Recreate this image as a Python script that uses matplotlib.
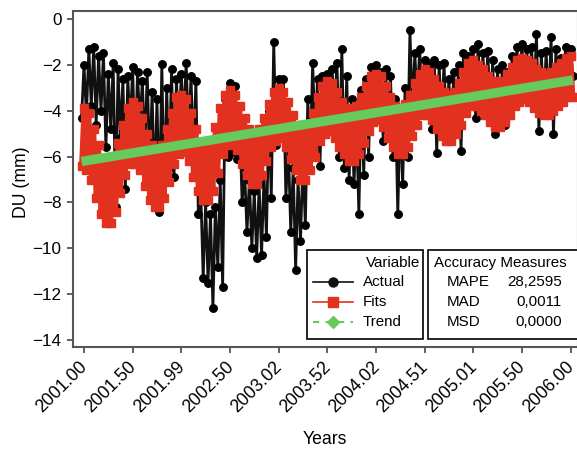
import numpy as np
import matplotlib
matplotlib.use("Agg")
import matplotlib.pyplot as plt
import matplotlib.transforms as mtransforms
from matplotlib.lines import Line2D
from matplotlib.patches import Rectangle

plt.rcParams['font.family'] = ['Liberation Sans', 'DejaVu Sans']

# time grid of the series (decimal years)
t_start = 2000.975
t_step = 0.025

actual = [
    -4.3,
    -2.0, -4.2, -1.3, -3.8, -1.2, -4.6, -1.6, -4.0, -1.5, -5.6, -2.4, -4.8, -1.9, -8.2, -2.2, -5.2, -2.6, -7.4, -2.5, -4.8,
    -2.1, -6.2, -2.3, -4.6, -2.7, -5.8, -2.3, -6.5, -3.2, -7.6, -3.5, -8.4, -1.95, -7.8, -3.0, -6.5, -2.2, -6.9, -2.6, -5.0,
    -2.4, -4.5, -1.9, -5.0, -2.5, -6.0, -2.7, -8.5, -7.5, -11.3, -8.0, -11.5, -8.5, -12.6, -8.2, -10.8, -7.0, -11.7, -3.5, -6.0,
    -2.8, -5.8, -2.9, -6.1, -4.5, -8.0, -6.5, -9.3, -7.0, -10.0, -7.5, -10.4, -7.2, -10.3, -6.8, -9.5, -4.0, -7.8, -1.0, -5.5,
    -2.6, -4.5, -2.6, -7.8, -5.5, -9.3, -6.5, -10.95, -7.0, -9.7, -6.2, -9.0, -3.5, -6.0, -1.9, -5.0, -2.6, -6.4, -2.5, -4.5,
    -2.4, -4.5, -2.2, -4.0, -1.9, -6.0, -1.3, -6.5, -2.5, -7.0, -3.5, -7.2, -4.5, -8.5, -3.1, -6.8, -2.6, -6.0, -2.1, -4.5,
    -2.0, -4.0, -2.3, -5.3, -2.2, -4.5, -2.5, -6.0, -3.5, -8.5, -4.0, -7.2, -3.0, -6.0, -0.5, -4.0, -1.5, -3.5, -1.3, -3.5,
    -1.8, -4.0, -2.0, -4.8, -1.8, -5.85, -2.0, -4.5, -1.9, -5.0, -2.6, -5.2, -2.3, -4.8, -2.0, -5.75, -1.5, -4.0, -1.6, -3.8,
    -1.3, -4.3, -1.1, -3.5, -1.5, -3.8, -1.4, -4.2, -1.8, -5.0, -2.2, -4.5, -2.0, -4.6, -2.3, -4.2, -1.6, -3.5, -1.2, -3.2,
    -1.1, -3.0, -1.3, -3.2, -1.2, -3.5, -0.65, -4.9, -1.5, -3.8, -1.4, -4.0, -0.8, -5.0, -1.3, -3.5, -1.7, -3.0, -1.2, -2.8,
    -1.3, -2.5,
]

fits = [
    -6.4,
    -3.9, -6.6, -4.1, -7.0, -4.8, -7.8, -5.5, -8.5, -6.2, -8.9, -6.4, -8.9, -6.1, -8.4, -5.4, -7.6, -4.6, -6.8, -3.9, -6.3,
    -3.6, -6.3, -3.8, -6.6, -4.3, -7.3, -5.0, -7.9, -5.5, -8.2, -5.7, -8.2, -5.5, -7.8, -4.8, -7.1, -4.1, -6.3, -3.4, -5.9,
    -3.3, -5.8, -3.5, -6.2, -4.1, -6.9, -4.8, -7.5, -5.4, -7.9, -5.6, -7.9, -5.4, -7.5, -4.7, -6.7, -3.9, -5.9, -3.3, -5.5,
    -3.1, -5.4, -3.3, -5.7, -3.8, -6.3, -4.3, -6.8, -4.8, -7.2, -5.0, -7.2, -4.8, -6.8, -4.3, -6.2, -3.7, -5.6, -3.2, -5.3,
    -3.0, -5.2, -3.2, -5.6, -3.6, -6.1, -4.2, -6.6, -4.6, -7.0, -4.8, -7.0, -4.6, -6.6, -4.1, -6.0, -3.4, -5.3, -2.9, -5.0,
    -2.7, -4.9, -2.8, -5.2, -3.2, -5.6, -3.6, -5.9, -3.9, -6.2, -4.0, -6.2, -3.8, -5.9, -3.4, -5.4, -2.9, -4.9, -2.5, -4.5,
    -2.4, -4.4, -2.5, -4.7, -2.9, -5.2, -3.4, -5.6, -3.8, -5.9, -3.9, -5.9, -3.7, -5.6, -3.3, -5.1, -2.8, -4.6, -2.4, -4.2,
    -2.2, -4.2, -2.3, -4.4, -2.6, -4.8, -2.9, -5.1, -3.2, -5.3, -3.3, -5.3, -3.2, -5.0, -2.8, -4.6, -2.3, -4.1, -1.9, -3.8,
    -1.8, -3.8, -2.0, -4.0, -2.2, -4.2, -2.5, -4.5, -2.7, -4.7, -2.8, -4.7, -2.7, -4.5, -2.4, -4.2, -2.1, -3.8, -1.8, -3.6,
    -1.7, -3.5, -1.8, -3.6, -1.9, -3.9, -2.2, -4.1, -2.3, -4.2, -2.4, -4.2, -2.3, -4.0, -2.1, -3.8, -1.9, -3.6, -1.7, -3.4,
    -1.6, -3.4,
]

trend_years = [2000.975, 2006.025]
trend_values = [-6.21, -2.66]

tick_pos = [2001.0, 2001.5, 2002.0, 2002.5, 2003.0, 2003.5, 2004.0, 2004.5, 2005.0, 2005.5, 2006.0]
tick_labels = ['2001.00', '2001.50', '2001.99', '2002.50', '2003.02', '2003.52',
               '2004.02', '2004.51', '2005.01', '2005.50', '2006.00']
y_ticks = [0, -2, -4, -6, -8, -10, -12, -14]

series_names = ['Actual', 'Fits', 'Trend']
measure_names = ['MAPE', 'MAD', 'MSD']
measure_values = ['28,2595', '0,0011', '0,0000']

c_actual = '#111111'
c_fits = '#e2321f'
c_trend = '#66ca5c'

years_a = t_start + t_step * np.arange(len(actual))
years_f = t_start + t_step * np.arange(len(fits))

fig = plt.figure(figsize=(5.77, 4.53), dpi=100)
ax = fig.add_axes([72.7 / 577, 1 - 346.5 / 453, (578 - 72.7) / 577, (346.5 - 11) / 453])

ax.plot(years_a, actual, color=c_actual, lw=2.0, marker='o', ms=5.4,
        mfc='black', mec='black', zorder=2)
ax.plot(years_f, fits, color=c_fits, lw=3.6, marker='s', ms=5.2,
        mfc=c_fits, mec=c_fits, zorder=3)
ax.plot(trend_years, trend_values, color=c_trend, lw=6.8, solid_capstyle='butt', zorder=4)

ax.set_xlim(2000.884, 2006.077)
ax.set_ylim(-14.28, 0.35)
ax.set_xticks(tick_pos)
ax.set_xticklabels(tick_labels)
ax.set_yticks(y_ticks)

for s in ax.spines.values():
    s.set_color('#555555')
    s.set_linewidth(1.5)
ax.tick_params(axis='both', color='#555555', width=1.3, length=4.5, labelsize=12.3,
               labelcolor='black')
ax.tick_params(axis='x', labelsize=12.7, pad=2)
offset = mtransforms.ScaledTranslation(-5 / 100, -3 / 100, fig.dpi_scale_trans)
for lab in ax.get_xticklabels():
    lab.set_rotation(45)
    lab.set_ha('right')
    lab.set_va('top')
    lab.set_rotation_mode('anchor')
    lab.set_transform(lab.get_transform() + offset)

fig.text(22 / 577, 1 - 182 / 453, 'DU (mm)', rotation=90, ha='center', va='center',
         fontsize=12.7)
fig.text(325 / 577, 1 - 440 / 453, 'Years', ha='center', va='center', fontsize=12.7)

# legend boxes
tr = ax.transAxes
def axx(px):
    return (px - 72.7) / 505.3
def axy(py):
    return 1 - (py - 11) / 335.5

ax.add_patch(Rectangle((axx(307), axy(339)), axx(423) - axx(307), axy(250) - axy(339),
                       transform=tr, facecolor='white', edgecolor='black', lw=1.2, zorder=6))
ax.add_patch(Rectangle((axx(428), axy(339)), axx(590) - axx(428), axy(250) - axy(339),
                       transform=tr, facecolor='white', edgecolor='black', lw=1.2, zorder=6,
                       clip_on=False))

fs = 10.9
ax.text(axx(420), axy(263), 'Variable', transform=tr, ha='right', va='center', fontsize=fs, zorder=7)
rows_y = [281.7, 301.7, 321.7]
styles = [
    dict(color=c_actual, ls='-', lw=1.2, marker='o', ms=6.5),
    dict(color=c_fits, ls='-', lw=1.2, marker='s', ms=7),
    dict(color=c_trend, ls=(0, (3, 3)), lw=1.5, marker='D', ms=6),
]
for name, ry, st in zip(series_names, rows_y, styles):
    y = axy(ry)
    ax.add_line(Line2D([axx(313), axx(353)], [y, y], transform=tr, color=st['color'],
                       ls=st['ls'], lw=st['lw'], zorder=7))
    ax.add_line(Line2D([axx(333)], [y], transform=tr, color=st['color'], ls='none',
                       marker=st['marker'], ms=st['ms'], mfc=st['color'], mec=st['color'], zorder=8))
    ax.text(axx(362.5), y, name, transform=tr, ha='left', va='center', fontsize=fs, zorder=7)

ax.text(axx(434), axy(263), 'Accuracy Measures', transform=tr, ha='left', va='center',
        fontsize=fs, zorder=7)
for name, val, ry in zip(measure_names, measure_values, rows_y):
    y = axy(ry)
    ax.text(axx(446.7), y, name, transform=tr, ha='left', va='center', fontsize=fs, zorder=7)
    ax.text(axx(561.7), y, val, transform=tr, ha='right', va='center', fontsize=fs, zorder=7)

fig.savefig('out.png', dpi=100)
